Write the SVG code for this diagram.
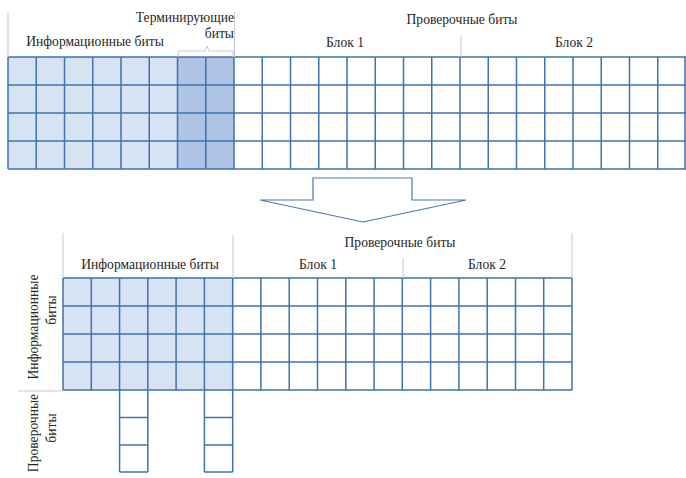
<svg xmlns="http://www.w3.org/2000/svg" width="686" height="478" viewBox="0 0 686 478">
<style>
text{font-family:'Liberation Serif','DejaVu Serif',serif;font-size:13.6px;fill:#262626}
.m{text-anchor:middle}
.e{text-anchor:end}
.g{fill:none;stroke:#3f72b0;stroke-width:1.5}
.lead{fill:none;stroke:#c4c9d2;stroke-width:1}
.info{fill:#d7e2f3}
.term{fill:#afc3e5}
.arrow{fill:#fff;stroke:#4a78b4;stroke-width:1.2}
</style>
<rect width="686" height="478" fill="#fff"/>

<g id="top-grid">
  <rect class="info" x="8" y="57" width="169.5" height="112"/>
  <rect class="term" x="177.5" y="57" width="56.5" height="112"/>
  <path class="g" d="M8,57H686M8,85H686M8,113H686M8,141H686M8,169H686
  M8,57V169M36.25,57V169M64.5,57V169M92.75,57V169M121,57V169M149.25,57V169M177.5,57V169M205.75,57V169M234,57V169
  M262.25,57V169M290.5,57V169M318.75,57V169M347,57V169M375.25,57V169M403.5,57V169M431.75,57V169M460,57V169
  M488.25,57V169M516.5,57V169M544.75,57V169M573,57V169M601.25,57V169M629.5,57V169M657.75,57V169M685,57V169"/>
</g>

<g id="top-labels" font-family="Liberation Serif, DejaVu Serif, serif">
  <path class="lead" d="M8,12V57M234.5,12V57M461,35V57"/>
  <path class="lead" d="M178,57V51H205L207,46L209,51H233V57" stroke="#9aa3b0"/>
  <text class="m" x="95" y="46">Информационные биты</text>
  <text class="e" x="234" y="22">Терминирующие</text>
  <text class="e" x="234" y="38">биты</text>
  <text class="m" x="462" y="24">Проверочные биты</text>
  <text class="m" x="345" y="47">Блок 1</text>
  <text class="m" x="574" y="47">Блок 2</text>
</g>

<g id="arrow">
  <polygon class="arrow" points="313,178 412,178 412,200 466,200 363,222 260,200 313,200"/>
</g>

<g id="bottom-grid">
  <rect class="info" x="63" y="278" width="169.7" height="112"/>
  <path class="g" d="M63,278H572M63,306H572M63,334H572M63,362H572M63,390H572
  M63,278V390M91.28,278V390M119.56,278V390M147.83,278V390M176.1,278V390M204.4,278V390M232.7,278V390
  M260.9,278V390M289.2,278V390M317.5,278V390M345.8,278V390M374.1,278V390M402.3,278V390
  M430.6,278V390M458.9,278V390M487.2,278V390M515.5,278V390M543.7,278V390M572,278V390"/>
  <path class="g" d="M119.56,390V472M147.83,390V472M119.56,417.5H147.83M119.56,445H147.83M119.56,472H147.83
  M204.4,390V472M232.7,390V472M204.4,417.5H232.7M204.4,445H232.7M204.4,472H232.7"/>
</g>

<g id="bottom-labels" font-family="Liberation Serif, DejaVu Serif, serif">
  <path class="lead" d="M63,233V278M233,235V278M403,258V278M572,233V278M18,391H63"/>
  <text class="m" x="150" y="269">Информационные биты</text>
  <text class="m" x="400" y="247">Проверочные биты</text>
  <text class="m" x="318" y="269">Блок 1</text>
  <text class="m" x="487" y="269">Блок 2</text>
  <text class="m" transform="translate(38,327) rotate(-90)">Информационные</text>
  <text class="m" transform="translate(56,310) rotate(-90)">биты</text>
  <text class="m" transform="translate(38,433) rotate(-90)">Проверочные</text>
  <text class="m" transform="translate(56,428) rotate(-90)">биты</text>
</g>
</svg>
